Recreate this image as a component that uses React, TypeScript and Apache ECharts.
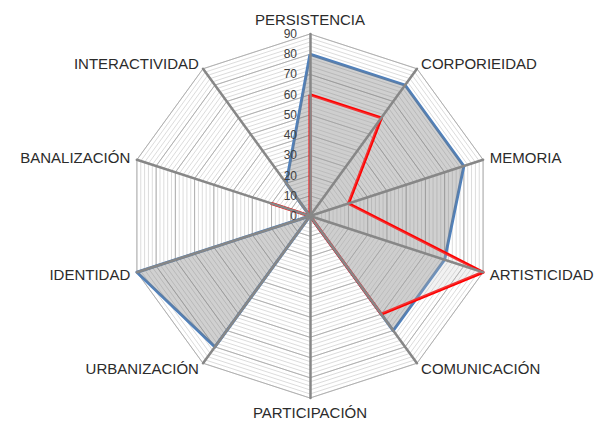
import React, { useEffect, useRef } from "react";
import * as echarts from "echarts";

// Categories listed clockwise from the top, as in the reference
const indicatorNames = [
  "PERSISTENCIA",
  "CORPORIEIDAD",
  "MEMORIA",
  "ARTISTICIDAD",
  "COMUNICACIÓN",
  "PARTICIPACIÓN",
  "URBANIZACIÓN",
  "IDENTIDAD",
  "BANALIZACIÓN",
  "INTERACTIVIDAD",
];
const seriesBlue = [80, 80, 80, 70, 70, 0, 80, 90, 0, 20];
const seriesRed = [60, 60, 20, 90, 60, 0, 0, 0, 20, 0];
const axisMin = 0;
const axisMax = 90;
const majorStep = 10;
const minorStep = 2;

// ECharts radar runs counter-clockwise: keep first item, reverse the rest
const toCCW = <T,>(arr: T[]): T[] => [arr[0], ...arr.slice(1).reverse()];

export default function App() {
  const ref = useRef<HTMLDivElement>(null);
  useEffect(() => {
    document.body.style.margin = "0";
    const chart = echarts.init(ref.current!, null, { renderer: "svg" });
    const ind = toCCW(indicatorNames).map((n) => ({ name: n, min: axisMin, max: axisMax }));
    const base = {
      center: [310, 216],
      radius: 182,
      startAngle: 90,
      shape: "polygon" as const,
      splitArea: { show: false },
      axisTick: { show: false },
      axisLabel: { show: false },
    };
    const font = "'Liberation Sans', Arial, sans-serif";
    chart.setOption({
      animation: false,
      backgroundColor: "#ffffff",
      radar: [
        {
          ...base,
          z: 1,
          indicator: ind,
          splitNumber: (axisMax - axisMin) / minorStep,
          splitLine: { lineStyle: { color: "#dcdcdc", width: 1 } },
          axisLine: { show: false },
          axisName: { show: false },
        },
        {
          ...base,
          z: 1,
          indicator: ind,
          splitNumber: (axisMax - axisMin) / majorStep,
          splitLine: { lineStyle: { color: "#b0b0b0", width: 1 } },
          axisLine: { show: false },
          nameGap: 7,
          axisName: { show: true, color: "#2b2b2b", fontSize: 15, fontFamily: font },
        },
        {
          ...base,
          z: 10,
          silent: true,
          indicator: ind,
          splitNumber: 9,
          splitLine: { show: false },
          axisLine: { show: true, lineStyle: { color: "#878787", width: 2.5 } },
          axisName: { show: false },
        },
        {
          ...base,
          z: 10,
          indicator: [{ name: "", min: axisMin, max: axisMax }],
          splitNumber: (axisMax - axisMin) / majorStep,
          splitLine: { show: false },
          axisLine: { show: false },
          axisName: { show: false },
          axisLabel: { show: true, color: "#404040", fontSize: 12, fontFamily: font, margin: 13 },
        },
      ],
      series: [
        {
          type: "radar",
          radarIndex: 1,
          symbol: "none",
          z: 3,
          data: [
            {
              value: toCCW(seriesBlue),
              lineStyle: { color: "#4f81bd", width: 3 },
              areaStyle: { color: "rgba(120,120,120,0.5)" },
            },
          ],
        },
        {
          type: "radar",
          radarIndex: 1,
          symbol: "none",
          z: 4,
          data: [
            {
              value: toCCW(seriesRed),
              lineStyle: { color: "#ff0000", width: 3 },
              areaStyle: { color: "rgba(200,200,200,0.35)" },
            },
          ],
        },
      ],
    });
    return () => chart.dispose();
  }, []);
  return <div ref={ref} style={{ width: 603, height: 432 }} />;
}
